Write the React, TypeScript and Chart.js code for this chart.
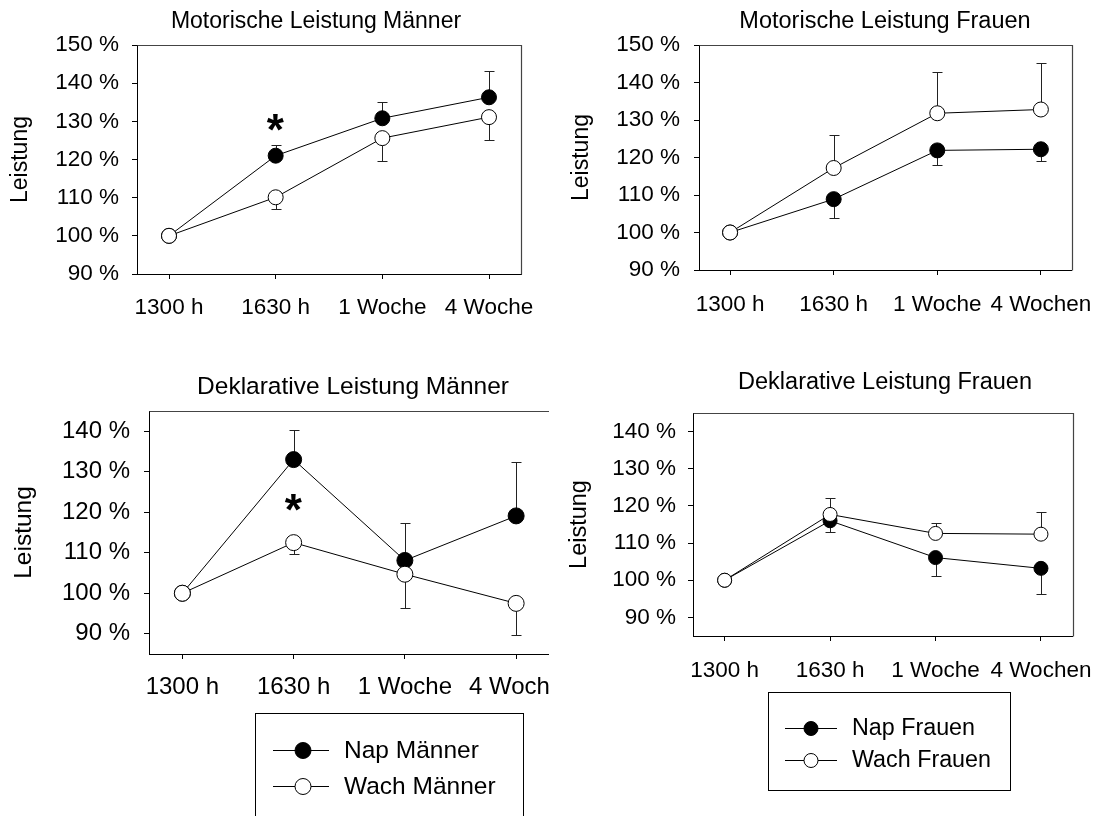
import React, { useEffect, useRef } from "react";
import { Chart, registerables } from "chart.js";

Chart.register(...registerables);

const FONT_FAMILY = "'Liberation Sans', Arial, Helvetica, sans-serif";
const PAGE_W = 1110;
const PAGE_H = 816;

// ---- categories / ticks ----
const timeIndex = [0, 1, 2, 3];
const timeLabelsM = ["1300 h", "1630 h", "1 Woche", "4 Woche"];
const timeLabelsF = ["1300 h", "1630 h", "1 Woche", "4 Wochen"];
const yTicksMotor = [90, 100, 110, 120, 130, 140, 150];
const yTicksDekl = [90, 100, 110, 120, 130, 140];
const yAxisTitle = "Leistung";

// ---- Motorische Leistung Männer ----
const motorNapM = [100, 121.0, 130.8, 136.3];
const motorWachM = [100, 110.1, 125.6, 131.1];
const motorNapMErr = [null, 123.9, 135.0, 143.2]; // upper end of error bar
const motorWachMErr = [null, 106.9, 119.6, 125.2]; // lower end of error bar
const motorMSig = [{ x: 1, y: 129.8 }];

// ---- Motorische Leistung Frauen ----
const motorNapF = [100, 108.9, 121.9, 122.2];
const motorWachF = [100, 117.2, 131.8, 132.8];
const motorNapFErr = [null, 103.9, 118.0, 119.0];
const motorWachFErr = [null, 126.1, 142.7, 145.2];

// ---- Deklarative Leistung Männer ----
const deklNapM = [100, 133.0, 108.1, 119.1];
const deklWachM = [100, 112.5, 104.7, 97.5];
const deklNapMErr = [null, 140.4, 117.4, 132.5];
const deklWachMErr = [null, 109.8, 96.4, 89.7];
const deklMSig = [{ x: 1, y: 122.5 }];

// ---- Deklarative Leistung Frauen ----
const deklNapF = [100, 116.0, 106.1, 103.2];
const deklWachF = [100, 117.7, 112.6, 112.4];
const deklNapFErr = [null, 113.1, 101.1, 96.3];
const deklWachFErr = [null, 122.0, 115.5, 118.4];

// ---- legend labels ----
const legendM = ["Nap Männer", "Wach Männer"];
const legendF = ["Nap Frauen", "Wach Frauen"];

type Legend = {
  box: { left: number; top: number; right: number; bottom: number };
  rows: number[];
  lineX: [number, number];
  markerX: number;
  r: number;
  textX: number;
  size: number;
};

type Panel = {
  title: string;
  labels: string[];
  nap: number[];
  wach: number[];
  napErr: (number | null)[];
  wachErr: (number | null)[];
  sig: { x: number; y: number }[];
  yMin: number;
  yMax: number;
  yTicks: number[];
  area: { left: number; right: number; top: number; bottom: number };
  titleX: number;
  titleY: number;
  titleSize: number;
  tickSize: number;
  axisTitleSize: number;
  axisTitleX: number;
  xPad: number;
  yPad: number;
  markerR: number;
  clipRight?: number;
  legendNames?: string[];
  legend?: Legend;
};

const panels: Panel[] = [
  {
    title: "Motorische Leistung Männer",
    labels: timeLabelsM,
    nap: motorNapM,
    wach: motorWachM,
    napErr: motorNapMErr,
    wachErr: motorWachMErr,
    sig: motorMSig,
    yMin: 90,
    yMax: 150,
    yTicks: yTicksMotor,
    area: { left: 137, right: 521, top: 45, bottom: 274 },
    titleX: 316,
    titleY: 22,
    titleSize: 23,
    tickSize: 22.5,
    axisTitleSize: 23,
    axisTitleX: 21,
    xPad: 15,
    yPad: 13,
    markerR: 7.5,
  },
  {
    title: "Motorische Leistung Frauen",
    labels: timeLabelsF,
    nap: motorNapF,
    wach: motorWachF,
    napErr: motorNapFErr,
    wachErr: motorWachFErr,
    sig: [],
    yMin: 90,
    yMax: 150,
    yTicks: yTicksMotor,
    area: { left: 699, right: 1078, top: 45, bottom: 270 },
    titleX: 885,
    titleY: 22,
    titleSize: 23.5,
    tickSize: 22.5,
    axisTitleSize: 23,
    axisTitleX: 582,
    xPad: 16,
    yPad: 14,
    markerR: 7.5,
  },
  {
    title: "Deklarative Leistung Männer",
    labels: timeLabelsM,
    nap: deklNapM,
    wach: deklWachM,
    napErr: deklNapMErr,
    wachErr: deklWachMErr,
    sig: deklMSig,
    yMin: 85,
    yMax: 145,
    yTicks: yTicksDekl,
    area: { left: 149, right: 549.5, top: 411, bottom: 654 },
    titleX: 353,
    titleY: 387,
    titleSize: 24.5,
    tickSize: 24,
    axisTitleSize: 24.5,
    axisTitleX: 24,
    xPad: 14,
    yPad: 14,
    markerR: 8,
    clipRight: 549,
    legendNames: legendM,
    legend: {
      box: { left: 255, top: 713, right: 523, bottom: 840 },
      rows: [750, 786],
      lineX: [273, 329],
      markerX: 303,
      r: 8,
      textX: 344,
      size: 24.5,
    },
  },
  {
    title: "Deklarative Leistung Frauen",
    labels: timeLabelsF,
    nap: deklNapF,
    wach: deklWachF,
    napErr: deklNapFErr,
    wachErr: deklWachFErr,
    sig: [],
    yMin: 85,
    yMax: 145,
    yTicks: yTicksDekl,
    area: { left: 693, right: 1079, top: 413, bottom: 636 },
    titleX: 885,
    titleY: 383,
    titleSize: 23.5,
    tickSize: 22.5,
    axisTitleSize: 23.5,
    axisTitleX: 580,
    xPad: 16,
    yPad: 12,
    markerR: 7,
    legendNames: legendF,
    legend: {
      box: { left: 768, top: 692, right: 1010, bottom: 790 },
      rows: [728, 760],
      lineX: [785, 837],
      markerX: 811,
      r: 7,
      textX: 852,
      size: 23.3,
    },
  },
];

const al = (v: number) => Math.round(v) + 0.5;

function buildChart(canvas: HTMLCanvasElement, p: Panel) {
  const axisLH = p.axisTitleSize * 1.2;
  const padLeft = p.axisTitleX - axisLH / 2;
  const yAxisWidth = p.area.left - padLeft;
  const xAxisHeight = 60;
  const padBottom = PAGE_H - p.area.bottom - xAxisHeight;
  const padRight = PAGE_W - p.area.right;
  const toPts = (vals: number[]) => vals.map((v, i) => ({ x: timeIndex[i], y: v }));

  const panelTitle = {
    id: "panelTitle",
    afterDraw(chart: any) {
      const { ctx } = chart;
      ctx.save();
      ctx.fillStyle = "#000";
      ctx.font = `${p.titleSize}px ${FONT_FAMILY}`;
      ctx.textAlign = "center";
      ctx.textBaseline = "middle";
      ctx.fillText(p.title, p.titleX, p.titleY);
      ctx.restore();
    },
  };

  const errorBars = {
    id: "errorBars",
    beforeDatasetsDraw(chart: any) {
      const { ctx } = chart;
      const xs = chart.scales.x;
      const ys = chart.scales.y;
      ctx.save();
      ctx.strokeStyle = "#222";
      ctx.lineWidth = 1;
      const sets: [number[], (number | null)[]][] = [
        [p.nap, p.napErr],
        [p.wach, p.wachErr],
      ];
      sets.forEach(([vals, errs]) => {
        errs.forEach((e, i) => {
          if (e == null) return;
          const x = al(xs.getPixelForValue(timeIndex[i]));
          const y0 = ys.getPixelForValue(vals[i]);
          const y1 = al(ys.getPixelForValue(e));
          ctx.beginPath();
          ctx.moveTo(x, y0);
          ctx.lineTo(x, y1);
          ctx.moveTo(x - 5, y1);
          ctx.lineTo(x + 5, y1);
          ctx.stroke();
        });
      });
      ctx.restore();
    },
  };

  const frame = {
    id: "frame",
    afterDraw(chart: any) {
      const { ctx, chartArea } = chart;
      ctx.save();
      ctx.strokeStyle = "#444";
      ctx.lineWidth = 1.2;
      ctx.beginPath();
      ctx.moveTo(al(chartArea.left), al(chartArea.top));
      ctx.lineTo(al(chartArea.right), al(chartArea.top));
      ctx.lineTo(al(chartArea.right), al(chartArea.bottom));
      ctx.stroke();
      ctx.restore();
    },
  };

  const sigMarks = {
    id: "sigMarks",
    afterDatasetsDraw(chart: any) {
      if (!p.sig.length) return;
      const { ctx } = chart;
      const xs = chart.scales.x;
      const ys = chart.scales.y;
      ctx.save();
      ctx.fillStyle = "#000";
      ctx.font = `bold 44px ${FONT_FAMILY}`;
      ctx.textAlign = "left";
      ctx.textBaseline = "alphabetic";
      p.sig.forEach((s) => {
        const m = ctx.measureText("*");
        const cx = xs.getPixelForValue(s.x);
        const cy = ys.getPixelForValue(s.y);
        const bx = cx - (m.actualBoundingBoxRight - m.actualBoundingBoxLeft) / 2;
        const by = cy - (m.actualBoundingBoxDescent - m.actualBoundingBoxAscent) / 2;
        ctx.fillText("*", bx, by);
      });
      ctx.restore();
    },
  };

  const customLegend = {
    id: "customLegend",
    afterDraw(chart: any) {
      const lg = p.legend;
      if (!lg || !p.legendNames) return;
      const { ctx } = chart;
      ctx.save();
      ctx.strokeStyle = "#000";
      ctx.lineWidth = 1;
      ctx.strokeRect(al(lg.box.left), al(lg.box.top), Math.round(lg.box.right - lg.box.left), Math.round(lg.box.bottom - lg.box.top));
      const fills = ["#000", "#fff"];
      p.legendNames.forEach((name, i) => {
        const y = lg.rows[i];
        ctx.beginPath();
        ctx.moveTo(lg.lineX[0], al(y));
        ctx.lineTo(lg.lineX[1], al(y));
        ctx.stroke();
        ctx.beginPath();
        ctx.arc(lg.markerX, y + 0.5, lg.r, 0, Math.PI * 2);
        ctx.fillStyle = fills[i];
        ctx.fill();
        ctx.stroke();
        ctx.fillStyle = "#000";
        ctx.font = `${lg.size}px ${FONT_FAMILY}`;
        ctx.textAlign = "left";
        ctx.textBaseline = "middle";
        ctx.fillText(name, lg.textX, y + 1);
      });
      ctx.restore();
    },
  };

  const lineStyle = {
    borderColor: "#000",
    borderWidth: 1,
    pointRadius: p.markerR,
    pointHoverRadius: p.markerR,
    pointBorderColor: "#000",
    pointBorderWidth: 1,
    fill: false,
    tension: 0,
  };

  return new Chart(canvas, {
    type: "line",
    data: {
      datasets: [
        {
          ...lineStyle,
          label: p.legendNames ? p.legendNames[0] : "Nap",
          data: toPts(p.nap),
          order: 1,
          pointBackgroundColor: "#000",
        },
        {
          ...lineStyle,
          label: p.legendNames ? p.legendNames[1] : "Wach",
          data: toPts(p.wach),
          order: 0,
          pointBackgroundColor: "#fff",
        },
      ],
    } as any,
    options: {
      animation: false,
      responsive: false,
      devicePixelRatio: 1,
      events: [],
      layout: { padding: { left: padLeft, right: padRight, top: p.area.top, bottom: padBottom } },
      plugins: {
        legend: { display: false },
        tooltip: { enabled: false },
        title: { display: false },
      },
      scales: {
        x: {
          type: "linear",
          min: -0.3,
          max: 3.3,
          afterBuildTicks: (s: any) => {
            s.ticks = timeIndex.map((v) => ({ value: v }));
          },
          afterFit: (s: any) => {
            s.height = xAxisHeight;
          },
          ticks: {
            autoSkip: false,
            maxRotation: 0,
            minRotation: 0,
            padding: p.xPad,
            color: "#000",
            font: { family: FONT_FAMILY, size: p.tickSize },
            callback: (v: any) => p.labels[Number(v)] ?? "",
          },
          grid: { drawOnChartArea: false, drawTicks: true, tickLength: 5, color: "#000", lineWidth: 1 },
          border: { display: true, color: "#000", width: 1 },
        },
        y: {
          type: "linear",
          min: p.yMin,
          max: p.yMax,
          afterBuildTicks: (s: any) => {
            s.ticks = p.yTicks.map((v) => ({ value: v }));
          },
          afterFit: (s: any) => {
            s.width = yAxisWidth;
          },
          title: {
            display: true,
            text: yAxisTitle,
            color: "#000",
            padding: { top: 0, bottom: 0 },
            font: { family: FONT_FAMILY, size: p.axisTitleSize },
          },
          ticks: {
            padding: p.yPad,
            color: "#000",
            font: { family: FONT_FAMILY, size: p.tickSize },
            callback: (v: any) => `${v} %`,
          },
          grid: { drawOnChartArea: false, drawTicks: true, tickLength: 5, color: "#000", lineWidth: 1 },
          border: { display: true, color: "#000", width: 1 },
        },
      },
    } as any,
    plugins: [errorBars, frame, sigMarks, customLegend, panelTitle],
  });
}

export default function App() {
  const r0 = useRef<HTMLCanvasElement>(null);
  const r1 = useRef<HTMLCanvasElement>(null);
  const r2 = useRef<HTMLCanvasElement>(null);
  const r3 = useRef<HTMLCanvasElement>(null);
  const refs = [r0, r1, r2, r3];

  useEffect(() => {
    const charts = panels.map((p, i) => buildChart(refs[i].current as HTMLCanvasElement, p));
    return () => charts.forEach((c) => c.destroy());
  }, []);

  return (
    <div
      style={{
        position: "fixed",
        left: 0,
        top: 0,
        width: PAGE_W,
        height: PAGE_H,
        background: "#fff",
        overflow: "hidden",
      }}
    >
      {panels.map((p, i) => (
        <canvas
          key={i}
          ref={refs[i]}
          width={PAGE_W}
          height={PAGE_H}
          style={{
            position: "absolute",
            left: 0,
            top: 0,
            width: PAGE_W,
            height: PAGE_H,
            clipPath: p.clipRight ? `inset(0 ${PAGE_W - p.clipRight}px 0 0)` : undefined,
          }}
        />
      ))}
    </div>
  );
}
